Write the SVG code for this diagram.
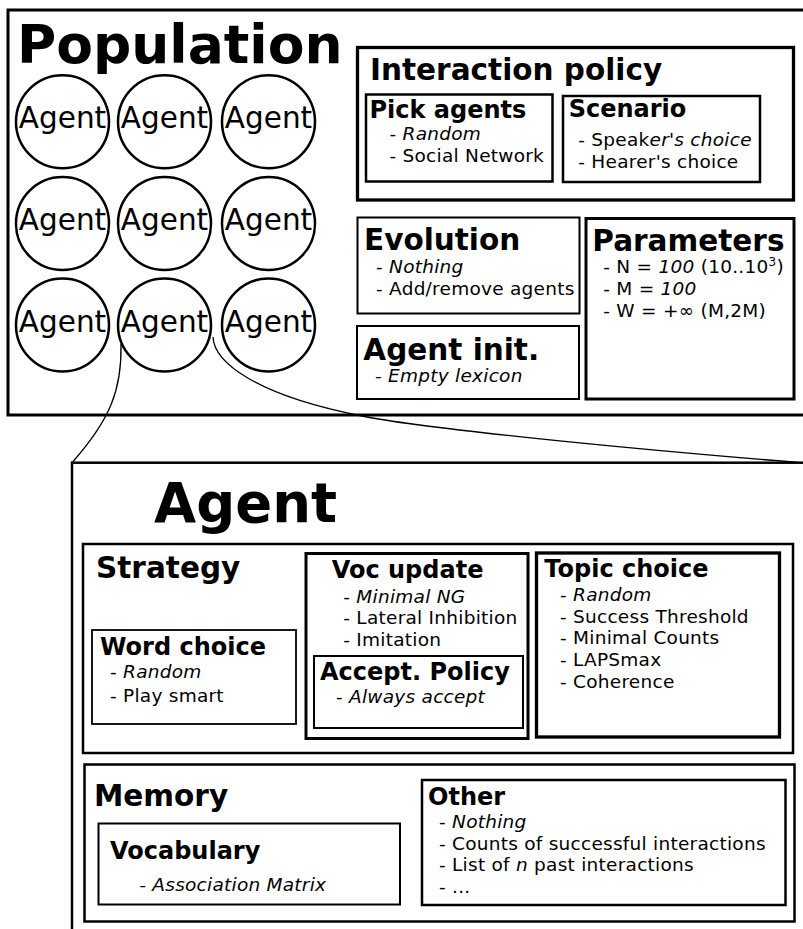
<svg xmlns="http://www.w3.org/2000/svg" width="803" height="929" viewBox="0 0 803 929">
<style>
text{font-family:"DejaVu Sans","Liberation Sans",sans-serif;fill:#000}
.box{fill:none;stroke:#000}
.h1{font-weight:bold;font-size:53.5px}
.h2{font-weight:bold;font-size:29.5px}
.h3{font-weight:bold;font-size:24px}
.li{font-size:18.5px;letter-spacing:0.25px}
.it{font-style:italic}
.ag{font-size:29.5px;text-anchor:middle}
.circ{fill:none;stroke:#000;stroke-width:2.5}
.con{fill:none;stroke:#000;stroke-width:1.3}
</style>
<rect width="803" height="929" fill="#fff"/>
<g id="population">
<rect class="box" x="8" y="10" width="810" height="405" stroke-width="3"/>
<text class="h1" x="17" y="63">Population</text>
</g>
<g id="agents">
<g id="agent-1"><circle class="circ" cx="62.5" cy="121.7" r="46.5"/><text class="ag" x="62.5" y="128.3">Agent</text></g>
<g id="agent-2"><circle class="circ" cx="164.5" cy="121.7" r="46.5"/><text class="ag" x="164.5" y="128.3">Agent</text></g>
<g id="agent-3"><circle class="circ" cx="268.5" cy="121.7" r="46.5"/><text class="ag" x="268.5" y="128.3">Agent</text></g>
<g id="agent-4"><circle class="circ" cx="62.5" cy="223.5" r="46.5"/><text class="ag" x="62.5" y="230.2">Agent</text></g>
<g id="agent-5"><circle class="circ" cx="164.5" cy="223.5" r="46.5"/><text class="ag" x="164.5" y="230.2">Agent</text></g>
<g id="agent-6"><circle class="circ" cx="268.5" cy="223.5" r="46.5"/><text class="ag" x="268.5" y="230.2">Agent</text></g>
<g id="agent-7"><circle class="circ" cx="62.5" cy="325" r="46.5"/><text class="ag" x="62.5" y="331.7">Agent</text></g>
<g id="agent-8"><circle class="circ" cx="164.5" cy="325" r="46.5"/><text class="ag" x="164.5" y="331.7">Agent</text></g>
<g id="agent-9"><circle class="circ" cx="268.5" cy="325" r="46.5"/><text class="ag" x="268.5" y="331.7">Agent</text></g>
</g>
<g id="interaction-policy">
<rect class="box" x="357.5" y="47.5" width="436" height="152.5" stroke-width="3.3"/>
<text class="h2" x="370" y="80">Interaction policy</text>
</g>
<g id="pick-agents">
<rect class="box" x="366" y="94.5" width="186.5" height="87" stroke-width="2.5"/>
<text class="h3" x="369.5" y="118.3">Pick agents</text>
<text class="li" x="389.5" y="139.5">- <tspan class="it">Random</tspan></text>
<text class="li" x="389.5" y="161.7">- Social Network</text>
</g>
<g id="scenario">
<rect class="box" x="563" y="96" width="197" height="86" stroke-width="2.5"/>
<text class="h3" x="568.7" y="117.3">Scenario</text>
<text class="li" x="578.3" y="145.7">- Speak<tspan class="it">er's choice</tspan></text>
<text class="li" x="578.3" y="167.7">- Hearer's choice</text>
</g>
<g id="evolution">
<rect class="box" x="357.5" y="217.5" width="222" height="96" stroke-width="2"/>
<text class="h2" x="364" y="250">Evolution</text>
<text class="li" x="376" y="273.3">- <tspan class="it">Nothing</tspan></text>
<text class="li" x="376" y="295">- Add/remove agents</text>
</g>
<g id="agent-init">
<rect class="box" x="357" y="326" width="222" height="73" stroke-width="2"/>
<text class="h2" x="363.3" y="360">Agent init.</text>
<text class="li it" x="375" y="381.5">- Empty lexicon</text>
</g>
<g id="parameters">
<rect class="box" x="586" y="218.5" width="208" height="180.5" stroke-width="3"/>
<text class="h2" x="592.3" y="250.7">Parameters</text>
<text class="li" x="603.3" y="273.3">- N = <tspan class="it">100</tspan> (10..10<tspan font-size="12" dy="-7">3</tspan><tspan dy="7">)</tspan></text>
<text class="li" x="603.3" y="295">- M = <tspan class="it">100</tspan></text>
<text class="li" x="603.3" y="316.7">- W = +∞ (M,2M)</text>
</g>
<g id="connectors">
<path class="con" d="M121,344 C122,390 110,420 72,462.7"/>
<path class="con" d="M213,337 C214,362 255,395 362,416 C420,428 620,448 801,462.7"/>
</g>
<g id="agent-detail">
<rect class="box" x="72" y="462.7" width="740" height="480" stroke-width="2.5"/>
<text class="h1" x="154" y="521.7" style="font-size:54.5px">Agent</text>
</g>
<g id="strategy">
<rect class="box" x="83" y="544" width="710" height="209" stroke-width="2.5"/>
<text class="h2" x="96" y="578">Strategy</text>
</g>
<g id="word-choice">
<rect class="box" x="92" y="630" width="204" height="94" stroke-width="1.8"/>
<text class="h3" x="100" y="655">Word choice</text>
<text class="li" x="110" y="678">- <tspan class="it">Random</tspan></text>
<text class="li" x="110" y="701.7">- Play smart</text>
</g>
<g id="voc-update">
<rect class="box" x="306" y="553.5" width="222" height="185" stroke-width="3"/>
<text class="h3" x="331.7" y="577.7">Voc update</text>
<text class="li" x="343.3" y="602.7">- <tspan class="it">Minimal NG</tspan></text>
<text class="li" x="343.3" y="624.3">- Lateral Inhibition</text>
<text class="li" x="343.3" y="646">- Imitation</text>
</g>
<g id="accept-policy">
<rect class="box" x="314" y="656" width="209" height="72" stroke-width="2"/>
<text class="h3" x="320" y="680">Accept. Policy</text>
<text class="li" x="336" y="702.7">- <tspan class="it">Always accept</tspan></text>
</g>
<g id="topic-choice">
<rect class="box" x="536.5" y="553" width="243" height="184" stroke-width="3.3"/>
<text class="h3" x="544.3" y="576.7">Topic choice</text>
<text class="li" x="560" y="600.7">- <tspan class="it">Random</tspan></text>
<text class="li" x="560" y="622.7">- Success Threshold</text>
<text class="li" x="560" y="644.3">- Minimal Counts</text>
<text class="li" x="560" y="666">- LAPSmax</text>
<text class="li" x="560" y="687.7">- Coherence</text>
</g>
<g id="memory">
<rect class="box" x="84.5" y="764.5" width="710" height="157" stroke-width="2.5"/>
<text class="h2" x="94" y="805.7">Memory</text>
</g>
<g id="vocabulary">
<rect class="box" x="98.5" y="823.5" width="301.5" height="81" stroke-width="2"/>
<text class="h3" x="110" y="859.3">Vocabulary</text>
<text class="li it" x="139.3" y="890.7">- Association Matrix</text>
</g>
<g id="other">
<rect class="box" x="422" y="780" width="363.5" height="125" stroke-width="2.5"/>
<text class="h3" x="428" y="805">Other</text>
<text class="li" x="439" y="828.3">- <tspan class="it">Nothing</tspan></text>
<text class="li" x="439" y="850">- Counts of successful interactions</text>
<text class="li" x="439" y="870.7">- List of <tspan class="it">n</tspan> past interactions</text>
<text class="li" x="439" y="893.3">- ...</text>
</g>
</svg>
